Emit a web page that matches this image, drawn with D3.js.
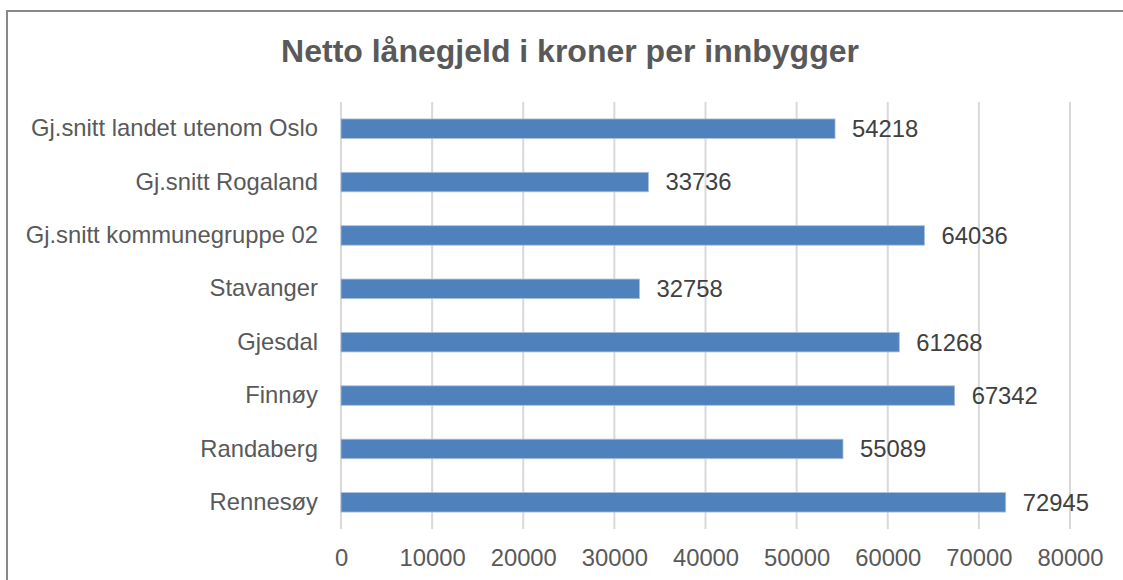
<!DOCTYPE html>
<html>
<head>
<meta charset="utf-8">
<script src="https://cdn.jsdelivr.net/npm/d3@7"></script>
<style>
  html, body { margin: 0; padding: 0; background: #fff; }
  svg { display: block; font-family: "Liberation Sans", Arial, sans-serif; }
</style>
</head>
<body>
<svg id="chart" width="1123" height="580"></svg>
<script>
const categories = [
  "Gj.snitt landet utenom Oslo",
  "Gj.snitt Rogaland",
  "Gj.snitt kommunegruppe 02",
  "Stavanger",
  "Gjesdal",
  "Finnøy",
  "Randaberg",
  "Rennesøy"
];
const values = [54218, 33736, 64036, 32758, 61268, 67342, 55089, 72945];
const tickValues = [0, 10000, 20000, 30000, 40000, 50000, 60000, 70000, 80000];
const title = "Netto lånegjeld i kroner per innbygger";

const svg = d3.select("#chart");
const W = 1123, H = 580;
const m = { left: 341, right: 1070, top: 102, bottom: 529 };
const FS = 23.8;

// chart border
svg.append("path")
  .attr("d", `M7,${H + 5} L7,11 L${W + 5},11`)
  .attr("fill", "none")
  .attr("stroke", "#888888")
  .attr("stroke-width", 2);

svg.append("text")
  .attr("x", 570).attr("y", 62)
  .attr("text-anchor", "middle")
  .attr("font-size", 32).attr("font-weight", "bold")
  .attr("fill", "#595959")
  .text(title);

const x = d3.scaleLinear().domain([0, 80000]).range([m.left, m.right]);
const y = d3.scaleBand().domain(categories).range([m.top, m.bottom]).paddingInner(0.635).paddingOuter(0.3175);

// gridlines
svg.append("g").selectAll("line").data(tickValues).join("line")
  .attr("x1", d => x(d)).attr("x2", d => x(d))
  .attr("y1", m.top).attr("y2", m.bottom)
  .attr("stroke", "#d9d9d9").attr("stroke-width", 2);

// x axis labels
const xAxis = d3.axisBottom(x).tickValues(tickValues).tickSize(0).tickPadding(0).tickFormat(d3.format("d"));
const gx = svg.append("g").attr("transform", `translate(0,${m.bottom})`).call(xAxis);
gx.select(".domain").remove();
gx.selectAll("text").attr("font-size", FS).attr("fill", "#595959").attr("dy", 0).attr("y", 37)
  .attr("font-family", "Liberation Sans, Arial, sans-serif");

// y axis labels
const yAxis = d3.axisLeft(y).tickSize(0).tickPadding(23);
const gy = svg.append("g").attr("transform", `translate(${m.left},0)`).call(yAxis);
gy.select(".domain").remove();
gy.selectAll("text").attr("font-size", FS).attr("fill", "#595959")
  .attr("font-family", "Liberation Sans, Arial, sans-serif");

// bars
svg.append("g").selectAll("rect").data(values).join("rect")
  .attr("x", x(0))
  .attr("y", (d, i) => y(categories[i]))
  .attr("width", d => x(d) - x(0))
  .attr("height", y.bandwidth())
  .attr("fill", "#4f81bd")
  .attr("stroke", "#a9c0de").attr("stroke-width", 0.8);

// data labels
svg.append("g").selectAll("text").data(values).join("text")
  .attr("x", d => x(d) + 17)
  .attr("y", (d, i) => y(categories[i]) + y.bandwidth() / 2)
  .attr("dy", "0.35em")
  .attr("font-size", FS).attr("fill", "#404040")
  .text(d => d);
</script>
</body>
</html>
